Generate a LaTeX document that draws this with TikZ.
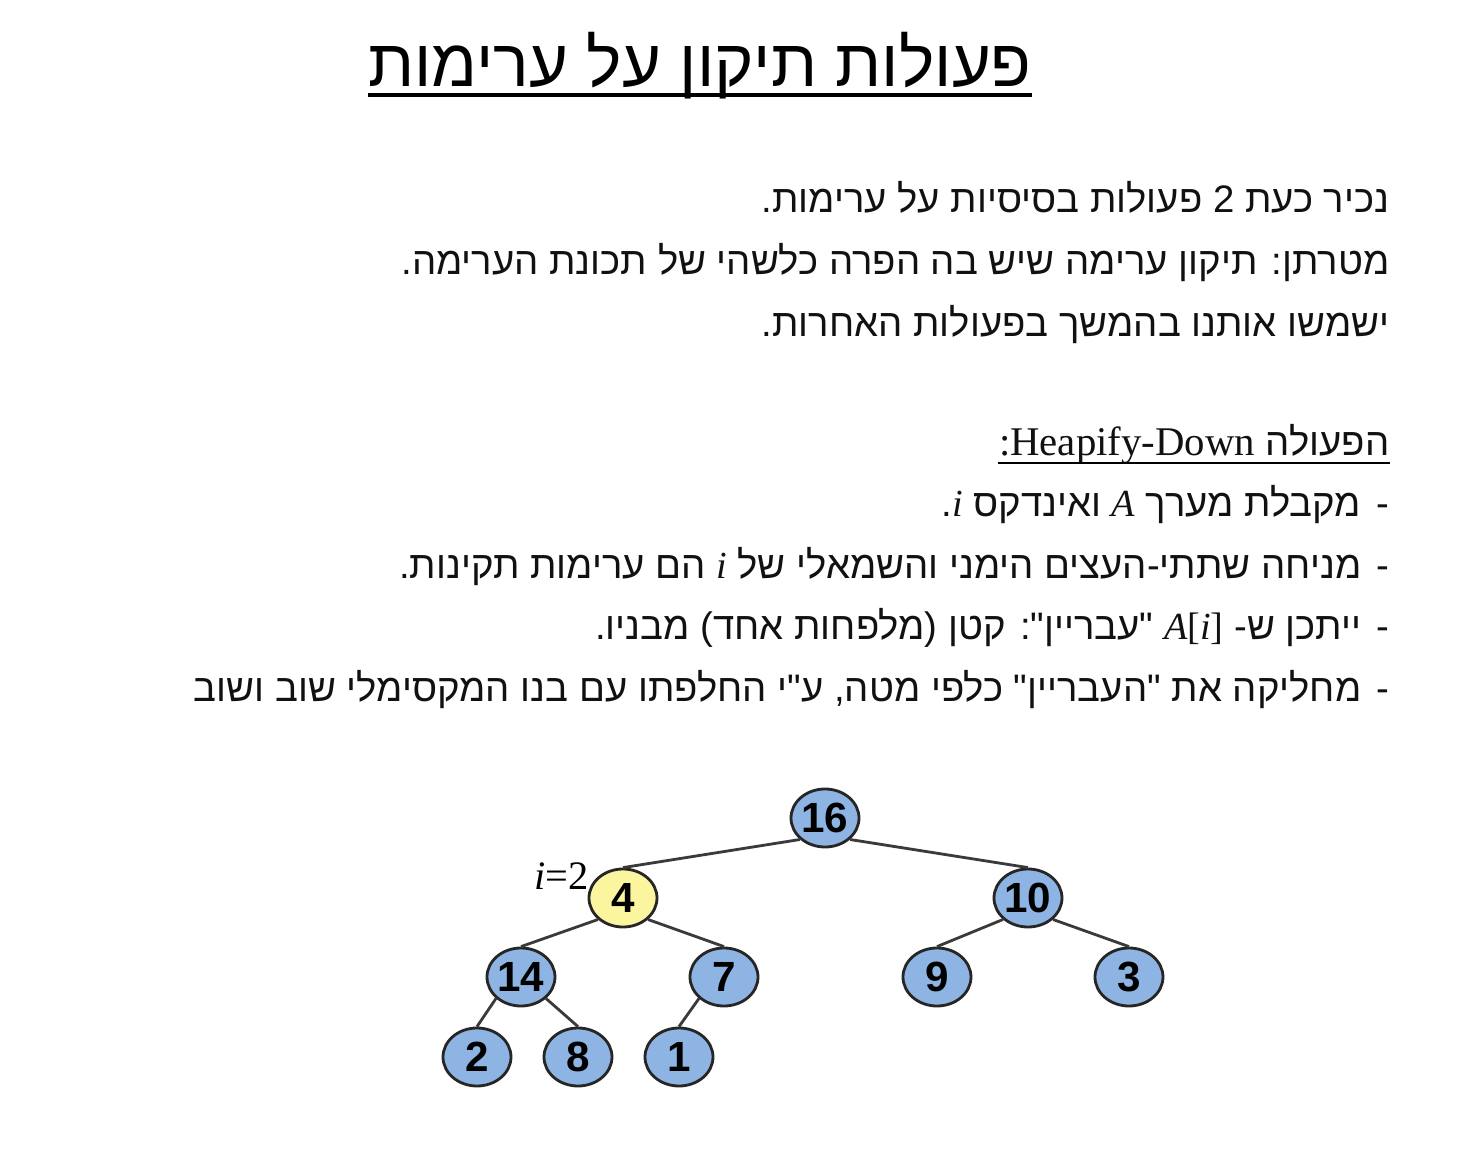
\documentclass[tikz,border=0pt]{standalone}
\usepackage{fontspec}
\setmainfont{Liberation Serif}
\newfontfamily\heb[Script=Hebrew]{Liberation Sans}
\TeXXeTstate=1
\usetikzlibrary{positioning,shapes.geometric}
\definecolor{KeyBlue}{HTML}{8DB4E2}
\definecolor{KeyYellow}{HTML}{FAF59E}
\definecolor{EdgeGray}{HTML}{3A3A3A}
\definecolor{TextDark}{HTML}{111111}

\begin{document}
\begin{tikzpicture}[
    x=1cm, y=1cm,
    node distance=8mm and 10mm,
    key/.style={ellipse, draw=black!85, fill=KeyBlue, minimum width=0.68cm, minimum height=0.58cm, inner sep=0pt, font=\heb\fontsize{12}{12}\selectfont\bfseries, line width=0.8pt},
    hot/.style={key, fill=KeyYellow},
    textline/.style={anchor=base east, inner sep=0pt, font=\heb\fontsize{10.9}{13}\selectfont, text=TextDark},
    bullet/.style={anchor=base east, inner sep=0pt, font=\heb\fontsize{10.9}{13}\selectfont, text=TextDark},
    link/.style={EdgeGray, line width=0.8pt}
  ]
    \useasboundingbox (0,0) rectangle (14.71,-11.57);

    % Title
    \node (title) [anchor=base, inner sep=0pt, font=\heb\fontsize{19}{22}\selectfont] at (7.0,-0.86) {\beginR פעולות תיקון על ערימות\endR};
    \draw [line width=0.9pt] ([yshift=-0.09cm]title.base west) -- ([yshift=-0.09cm]title.base east);

    % Intro
    \node (intro1) [textline] at (13.9,-2.12) {\beginR נכיר כעת 2 פעולות בסיסיות על ערימות.\endR};
    \node (intro2) [textline] at (13.9,-2.74) {\beginR מטרתן: תיקון ערימה שיש בה הפרה כלשהי של תכונת הערימה.\endR};
    \node (intro3) [textline] at (13.9,-3.36) {\beginR ישמשו אותנו בהמשך בפעולות האחרות.\endR};

    % Heapify-Down
    \node (op) [textline] at (13.9,-4.55) {\beginR הפעולה \beginL{\rmfamily\fontsize{11.6}{13}\selectfont Heapify-Down}\endL{\rmfamily\fontsize{11.6}{13}\selectfont :}\endR};
    \draw [line width=0.6pt] ([yshift=-0.08cm]op.base west) -- ([yshift=-0.08cm]op.base east);

    \node (p1) [textline] at (13.62,-5.16) {\beginR מקבלת מערך {\rmfamily\itshape A} ואינדקס {\rmfamily\itshape i}.\endR};
    \node (p2) [textline] at (13.62,-5.78) {\beginR מניחה שתתי-העצים הימני והשמאלי של {\rmfamily\itshape i} הם ערימות תקינות.\endR};
    \node (p3) [textline] at (13.62,-6.39) {\beginR ייתכן ש- \beginL{\rmfamily\itshape A}{\rmfamily[}{\rmfamily\itshape i}{\rmfamily]}\endL{} "עבריין": קטן (מלפחות אחד) מבניו.\endR};
    \node (p4) [textline] at (13.62,-7.01) {\beginR מחליקה את "העבריין" כלפי מטה, ע"י החלפתו עם בנו המקסימלי שוב ושוב\endR};
    \foreach \p in {p1,p2,p3,p4}
      \node [bullet] at (\p.base east) [xshift=0.28cm] {-};

    % Heap
    \node (n16) [key] at (8.25,-8.18) {16};
    \node (n4) [hot, on grid, below left=0.8 and 2.02 of n16] {4};
    \node (n10) [key, on grid, below right=0.8 and 2.03 of n16] {10};
    \node (n14) [key, on grid, below left=0.79 and 1.02 of n4] {14};
    \node (n7) [key, on grid, below right=0.79 and 1.01 of n4] {7};
    \node (n9) [key, on grid, below left=0.79 and 0.91 of n10] {9};
    \node (n3) [key, on grid, below right=0.79 and 1.01 of n10] {3};
    \node (n2) [key, on grid, below left=0.8 and 0.44 of n14] {2};
    \node (n8) [key, on grid, below right=0.8 and 0.57 of n14] {8};
    \node (n1) [key, on grid, below left=0.8 and 0.45 of n7] {1};
    \node (lbl) [anchor=base east, inner sep=0pt, font=\rmfamily\fontsize{11.5}{12}\selectfont] at ([xshift=0.02cm, yshift=0.09cm]n4.west) {\textit{i}=2};

    \draw [link] (n16.south west) -- (n4.north);
    \draw [link] (n16.south east) -- (n10.north);
    \draw [link] (n4.south west) -- (n14.north);
    \draw [link] (n4.south east) -- (n7.north);
    \draw [link] (n10.south west) -- (n9.north);
    \draw [link] (n10.south east) -- (n3.north);
    \draw [link] (n14.south west) -- (n2.north);
    \draw [link] (n14.south east) -- (n8.north);
    \draw [link] (n7.south west) -- (n1.north);
  \end{tikzpicture}
\end{document}
